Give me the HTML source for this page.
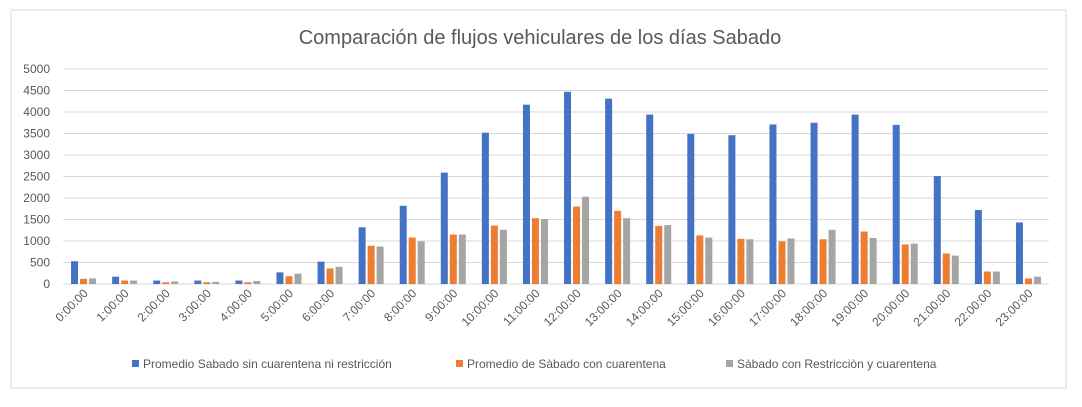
<!DOCTYPE html>
<html><head><meta charset="utf-8"><style>
body{margin:0;background:#fff;}
svg text{font-family:"Liberation Sans",sans-serif;fill:#595959;}
</style></head><body>
<svg width="1082" height="402" xmlns="http://www.w3.org/2000/svg">
<rect x="11" y="10" width="1055" height="378" fill="#fff" stroke="#d9d9d9" stroke-width="1"/>
<text x="540" y="44" font-size="20" text-anchor="middle">Comparación de flujos vehiculares de los días Sabado</text>
<g id="grid"></g>
<g id="bars"></g>
<g id="labels"></g>
<g font-size="12">
<rect x="132" y="360" width="7" height="7" fill="#4472c4"/><text x="143" y="368">Promedio Sabado sin cuarentena  ni restricción</text>
<rect x="456" y="360" width="7" height="7" fill="#ed7d31"/><text x="467" y="368">Promedio de Sàbado con cuarentena</text>
<rect x="726" y="360" width="7" height="7" fill="#a5a5a5"/><text x="737" y="368">Sàbado con Restricciòn y cuarentena</text>
</g>
</svg>
<script>
const ns="http://www.w3.org/2000/svg";
const g=document.getElementById("grid"),b=document.getElementById("bars"),l=document.getElementById("labels");
const y0=284,k=215/5000,x0=63,cw=(1049-63)/24;
for(let v=0;v<=5000;v+=500){const y=y0-v*k;
 const ln=document.createElementNS(ns,"line");ln.setAttribute("x1",x0);ln.setAttribute("x2",1049);ln.setAttribute("y1",y);ln.setAttribute("y2",y);ln.setAttribute("stroke","#d9d9d9");g.appendChild(ln);
 const t=document.createElementNS(ns,"text");t.setAttribute("x",50);t.setAttribute("y",y+4);t.setAttribute("text-anchor","end");t.setAttribute("font-size","12");t.textContent=v;g.appendChild(t);}
const A=[530,170,80,80,80,270,520,1320,1820,2590,3520,4170,4470,4310,3940,3490,3460,3710,3750,3940,3700,2510,1720,1430];
const B=[120,80,40,40,40,180,360,890,1080,1150,1360,1530,1800,1700,1350,1130,1050,990,1040,1220,920,710,290,130];
const C=[130,80,60,50,70,240,400,870,990,1150,1260,1510,2030,1530,1370,1080,1040,1060,1260,1070,940,660,290,170];
const cols=["#4472c4","#ed7d31","#a5a5a5"];
for(let i=0;i<24;i++){const c=x0+cw*(i+0.5);
 [A,B,C].forEach((s,j)=>{const r=document.createElementNS(ns,"rect");const h=s[i]*k;
  r.setAttribute("x",c-12.5+j*9);r.setAttribute("width",7);r.setAttribute("y",y0-h);r.setAttribute("height",h);r.setAttribute("fill",cols[j]);b.appendChild(r);});
 const t=document.createElementNS(ns,"text");t.setAttribute("font-size","12");t.setAttribute("text-anchor","end");
 t.setAttribute("transform",`translate(${c+5},${y0+10}) rotate(-45)`);t.textContent=i+":00:00";l.appendChild(t);}
</script>
</body></html>
